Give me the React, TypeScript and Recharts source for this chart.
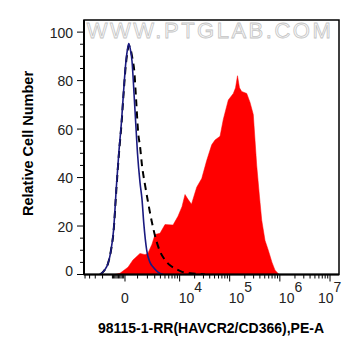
import { ComposedChart, Area, Line, XAxis, YAxis, ReferenceArea } from 'recharts';

// arcsinh display transform for the PE-A axis (linear near 0, log above)
const biex = (v: number) => Math.asinh(v / 1640) / Math.LN10;

const X_DOMAIN = [-0.817, 4.265];
const Y_DOMAIN = [0, 105];

const X_TICK_VALUES = [0, 1e4, 1e5, 1e6, 1e7];
const X_TICK_BASE = ['0', '10', '10', '10', '10'];
const X_TICK_EXP = ['', '4', '5', '6', '7'];
const X_MINOR_VALUES = [
  -5000, -4000, -3000, -2000, -1000, -900, -800, -700, -600, -500, -400, -300, -200, -100,
  1000, 2000, 3000, 4000, 5000, 6000, 7000, 8000, 9000,
  2e4, 3e4, 4e4, 5e4, 6e4, 7e4, 8e4, 9e4,
  2e5, 3e5, 4e5, 5e5, 6e5, 7e5, 8e5, 9e5,
  2e6, 3e6, 4e6, 5e6, 6e6, 7e6, 8e6, 9e6,
];
const Y_TICKS = [0, 5, 10, 15, 20, 25, 30, 35, 40, 45, 50, 55, 60, 65, 70, 75, 80, 85, 90, 95, 100];

// x values are in display units (decades on the transformed axis)
const STAINED_X = [
  -0.199, -0.1, 0.06, 0.159, 0.299, 0.399, 0.458, 0.538, 0.598, 0.698,
  0.797, 0.957, 1.056, 1.136, 1.196, 1.256, 1.325, 1.429, 1.529, 1.628,
  1.728, 1.794, 1.894, 1.959, 2.059, 2.159, 2.203, 2.242, 2.282, 2.326,
  2.426, 2.492, 2.557, 2.625, 2.681, 2.725, 2.791, 2.856, 2.93, 2.99, 3.07,
];
const STAINED_Y = [
  0, 0.5, 3, 6, 8.7, 8.2, 8.8, 12.5, 16.5, 17,
  20.6, 20.4, 24, 28, 33, 31, 29, 36, 39.6, 47,
  53.5, 55.5, 57, 64, 72, 74.7, 77, 82, 77, 75.5,
  74.7, 71, 66, 45, 32, 22.4, 14, 10, 5, 1.8, 0,
];

const BLANK_X = [
  -0.498, -0.419, -0.339, -0.279, -0.229, -0.169, -0.12, -0.07, -0.03, 0.01,
  0.05, 0.076, 0.106, 0.14, 0.179, 0.215, 0.249, 0.299, 0.339, 0.375,
  0.433, 0.498, 0.564, 0.658, 0.757,
];
const BLANK_Y = [
  0, 1.5, 4.5, 10, 18, 37, 51, 63, 75, 86,
  93, 95.3, 93, 88, 75, 62, 50, 38, 31, 21,
  10, 5, 3, 1, 0,
];

const ISOTYPE_X = [
  -0.498, -0.419, -0.339, -0.279, -0.229, -0.169, -0.12, -0.07, -0.03, 0.01,
  0.05, 0.076, 0.11, 0.149, 0.185, 0.219, 0.265, 0.299, 0.339, 0.399,
  0.458, 0.532, 0.598, 0.698, 0.797, 0.897, 0.997, 1.136, 1.296, 1.495, 1.595,
];
const ISOTYPE_Y = [
  0, 1.5, 4.5, 10, 17.5, 36, 50, 62, 74, 85,
  92, 94.5, 93, 89, 84, 73, 58, 53, 45, 37,
  30, 22, 16, 9.5, 6, 3.8, 2.5, 1.1, 0.5, 0.2, 0,
];

const stained = STAINED_X.map((x, i) => ({ x, y: STAINED_Y[i] }));
const blank = BLANK_X.map((x, i) => ({ x, y: BLANK_Y[i] }));
const isotype = ISOTYPE_X.map((x, i) => ({ x, y: ISOTYPE_Y[i] }));

const majorPos = X_TICK_VALUES.map(biex);
const xTicks = [...majorPos, ...X_MINOR_VALUES.map(biex)];

const FONT = 'Arial, "Liberation Sans", sans-serif';

const XTick = (props: any) => {
  const { x, y, payload } = props;
  const idx = majorPos.findIndex((p) => Math.abs(p - payload.value) < 1e-9);
  const len = idx >= 0 ? 7 : 4;
  return (
    <g>
      <line x1={x} x2={x} y1={y} y2={y + len} stroke="#000" strokeWidth={1} />
      {idx >= 0 &&
        (X_TICK_EXP[idx] === '' ? (
          <text x={x} y={y + 28.8} textAnchor="middle" fontSize={14} fontFamily={FONT} fill="#222">
            {X_TICK_BASE[idx]}
          </text>
        ) : (
          <text x={Math.min(x - 1, 318)} y={y + 28.8} textAnchor="start" fontSize={14} fontFamily={FONT} fill="#222">
            {X_TICK_BASE[idx]}
            <tspan dy={-11.6}>{X_TICK_EXP[idx]}</tspan>
          </text>
        ))}
    </g>
  );
};

const YTick = (props: any) => {
  const { x, y, payload } = props;
  const major = payload.value % 20 === 0;
  const len = major ? 7 : 4;
  return (
    <g>
      <line x1={x - len} x2={x} y1={y} y2={y} stroke="#000" strokeWidth={1} />
      {major && (
        <text
          x={x - 11}
          y={y + 5.5 - (payload.value === 0 ? 4 : 0)}
          textAnchor="end"
          fontSize={14}
          fontFamily={FONT}
          fill="#222"
        >
          {payload.value}
        </text>
      )}
    </g>
  );
};

export default function App() {
  return (
    <div style={{ position: 'absolute', left: 0, top: 0, width: 361, height: 356, background: '#fff' }}>
      <ComposedChart width={361} height={356} margin={{ top: 20, right: 22, bottom: 51.5, left: 0 }}>
        <XAxis
          dataKey="x"
          type="number"
          domain={X_DOMAIN}
          allowDataOverflow
          ticks={xTicks}
          interval={0}
          height={30}
          tickSize={0}
          tickMargin={0}
          tickLine={false}
          tick={<XTick />}
          axisLine={{ stroke: '#000', strokeWidth: 2 }}
        />
        <YAxis
          type="number"
          domain={Y_DOMAIN}
          allowDataOverflow
          ticks={Y_TICKS}
          interval={0}
          width={84}
          tickSize={0}
          tickMargin={0}
          tickLine={false}
          tick={<YTick />}
          axisLine={{ stroke: '#000', strokeWidth: 2 }}
        />
        <Area
          data={stained}
          dataKey="y"
          type="linear"
          stroke="#ff0000"
          strokeWidth={0.5}
          fill="#ff0000"
          fillOpacity={1}
          isAnimationActive={false}
        />
        <Line
          data={isotype}
          dataKey="y"
          type="monotone"
          stroke="#000"
          strokeWidth={2}
          strokeDasharray="7 5"
          dot={false}
          isAnimationActive={false}
        />
        <Line
          data={blank}
          dataKey="y"
          type="monotone"
          stroke="#1a1a80"
          strokeWidth={1.6}
          dot={false}
          isAnimationActive={false}
        />
        <ReferenceArea
          x1={X_DOMAIN[0]}
          x2={X_DOMAIN[1]}
          y1={Y_DOMAIN[0]}
          y2={Y_DOMAIN[1]}
          fill="none"
          stroke="#000"
          strokeWidth={1.5}
          ifOverflow="visible"
        />
      </ComposedChart>
      <svg width={361} height={356} style={{ position: 'absolute', left: 0, top: 0, pointerEvents: 'none' }}>
        <text
          x={210}
          y={38}
          textAnchor="middle"
          fontSize={22}
          fontFamily={FONT}
          letterSpacing={2.5}
          fill="#fafafa"
          stroke="#c4c4c4"
          strokeWidth={0.8}
        >
          WWW.PTGLAB.COM
        </text>
        <text
          x={33}
          y={143.5}
          transform="rotate(-90 33 143.5)"
          textAnchor="middle"
          fontSize={14.5}
          fontWeight="bold"
          fontFamily={FONT}
          fill="#000"
        >
          Relative Cell Number
        </text>
        <text x={211} y={333} textAnchor="middle" fontSize={14} fontWeight="bold" fontFamily={FONT} fill="#000">
          98115-1-RR(HAVCR2/CD366),PE-A
        </text>
      </svg>
    </div>
  );
}
